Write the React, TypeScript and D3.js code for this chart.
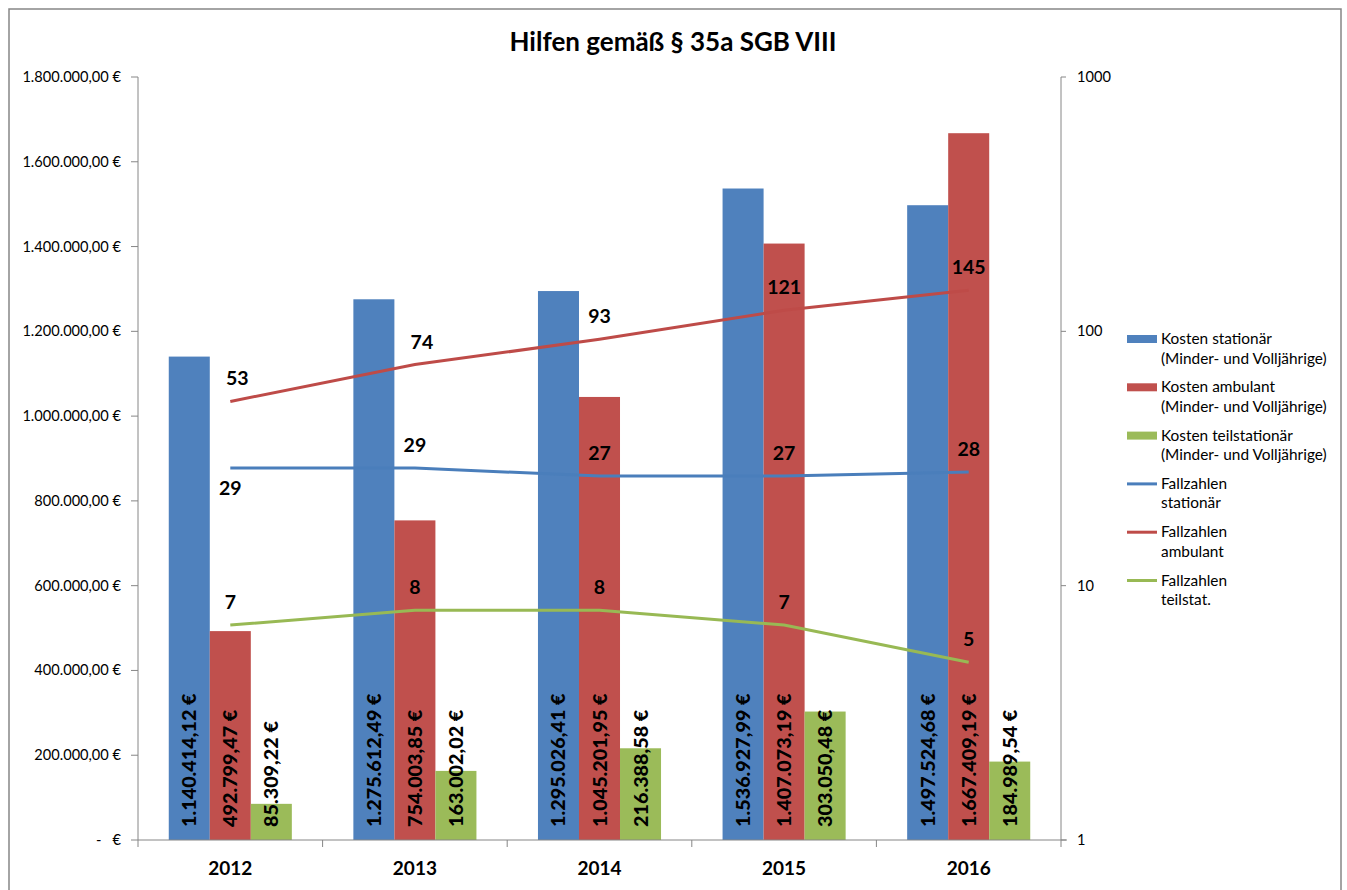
import React from "react";
import * as d3 from "d3";

const years = ["2012", "2013", "2014", "2015", "2016"];
const kostenStationaer = [1140414.12, 1275612.49, 1295026.41, 1536927.99, 1497524.68];
const kostenAmbulant = [492799.47, 754003.85, 1045201.95, 1407073.19, 1667409.19];
const kostenTeilstationaer = [85309.22, 163002.02, 216388.58, 303050.48, 184989.54];
const fallStationaer = [29, 29, 27, 27, 28];
const fallAmbulant = [53, 74, 93, 121, 145];
const fallTeilstat = [7, 8, 8, 7, 5];
const leftTicks = [0, 200000, 400000, 600000, 800000, 1000000, 1200000, 1400000, 1600000, 1800000];
const rightTicks = [1, 10, 100, 1000];
const title = "Hilfen gemäß § 35a SGB VIII";

const barSeries = [
  { name: ["Kosten stationär", "(Minder- und Volljährige)"], values: kostenStationaer, color: "#4F81BD" },
  { name: ["Kosten ambulant", "(Minder- und Volljährige)"], values: kostenAmbulant, color: "#C0504D" },
  { name: ["Kosten teilstationär", "(Minder- und Volljährige)"], values: kostenTeilstationaer, color: "#9BBB59" },
];
const lineSeries = [
  { name: ["Fallzahlen", "stationär"], values: fallStationaer, color: "#4A7EBB", below: [true, false, false, false, false] },
  { name: ["Fallzahlen", "ambulant"], values: fallAmbulant, color: "#BE4B48", below: [false, false, false, false, false] },
  { name: ["Fallzahlen", "teilstat."], values: fallTeilstat, color: "#98B954", below: [false, false, false, false, false] },
];

const de = d3.formatLocale({ decimal: ",", thousands: ".", grouping: [3], currency: ["", " €"] });
const fmtMoney = de.format(",.2f");
const FONT = "Lato, 'Open Sans', sans-serif";

export default function App() {
  const left = 138, right = 1061, top = 77, bottom = 840;
  const x0 = d3.scaleBand().domain(years).range([left, right]).paddingInner(0).paddingOuter(0);
  const bw = x0.bandwidth();
  const barW = bw / 4.5;
  const x1 = d3.scaleBand().domain(["0", "1", "2"]).range([0.75 * barW, 3.75 * barW]).padding(0);
  const yL = d3.scaleLinear().domain([0, 1800000]).range([bottom, top]);
  const yR = d3.scaleLog().domain([1, 1000]).range([bottom, top]);
  const xc = (i: number) => (x0(years[i]) as number) + bw / 2;
  const line = (vals: number[]) =>
    d3.line<number>().x((_, i) => xc(i)).y((v) => yR(v))(vals) as string;

  const legendX = 1127;
  const legendY0 = 344;
  const legendStep = 48.3;

  return (
    <svg width={1347} height={890} style={{ position: "absolute", left: 0, top: 0, fontFamily: FONT }}>
      <rect x={0} y={0} width={1347} height={890} fill="#fff" />
      <rect x={9} y={9} width={1332} height={900} fill="#fff" stroke="#868686" strokeWidth={1.5} />
      <text x={673} y={51} textAnchor="middle" fontSize={26} fontWeight="bold" fill="#000">{title}</text>

      {/* bars */}
      {barSeries.map((s, si) =>
        s.values.map((v, i) => {
          const bx = (x0(years[i]) as number) + (x1(String(si)) as number);
          return (
            <rect key={`b${si}-${i}`} x={bx} y={yL(v)} width={x1.bandwidth()} height={bottom - yL(v)} fill={s.color} />
          );
        })
      )}

      {/* axes */}
      <line x1={left} x2={left} y1={top} y2={bottom} stroke="#868686" strokeWidth={1} />
      <line x1={right} x2={right} y1={top} y2={bottom + 7} stroke="#868686" strokeWidth={1} />
      <line x1={left} x2={right + 6} y1={bottom} y2={bottom} stroke="#868686" strokeWidth={1} />
      {leftTicks.map((t) => (
        <g key={`lt${t}`}>
          <line x1={left - 7} x2={left} y1={yL(t)} y2={yL(t)} stroke="#868686" />
          <text x={121} y={yL(t) + 5} textAnchor="end" fontSize={14.6} fill="#000" style={{ whiteSpace: "pre" }}>
            {t === 0 ? "-   €" : fmtMoney(t) + " €"}
          </text>
        </g>
      ))}
      {rightTicks.map((t) => (
        <g key={`rt${t}`}>
          <line x1={right} x2={right + 5} y1={yR(t)} y2={yR(t)} stroke="#868686" />
          <text x={1077} y={yR(t) + 5} fontSize={14.6} fill="#000">{t}</text>
        </g>
      ))}
      {years.map((y, i) => (
        <g key={`c${y}`}>
          <line x1={x0(y) as number} x2={x0(y) as number} y1={bottom} y2={bottom + 7} stroke="#868686" />
          <text x={xc(i)} y={875} textAnchor="middle" fontSize={19} fontWeight="bold" fill="#000">{y}</text>
        </g>
      ))}

      {/* bar labels */}
      {barSeries.map((s, si) =>
        s.values.map((v, i) => {
          const cx = (x0(years[i]) as number) + (x1(String(si)) as number) + x1.bandwidth() / 2;
          return (
            <text key={`bl${si}-${i}`} transform={`translate(${cx + 7},${bottom - 13}) rotate(-90)`} fontSize={19.8} fontWeight={900} fill="#000">
              {fmtMoney(v) + " €"}
            </text>
          );
        })
      )}

      {/* lines */}
      {lineSeries.map((s, si) => (
        <path key={`l${si}`} d={line(s.values)} fill="none" stroke={s.color} strokeWidth={3} />
      ))}
      {lineSeries.map((s, si) =>
        s.values.map((v, i) => (
          <text key={`ll${si}-${i}`} x={xc(i) + (si === 1 && i < 2 ? 7 : 0)} y={yR(v) + (s.below[i] ? 27 : -16)} textAnchor="middle" fontSize={19.5} fontWeight="bold" fill="#000">
            {v}
          </text>
        ))
      )}

      {/* legend */}
      {[...barSeries, ...lineSeries].map((s, k) => {
        const ly = legendY0 + k * legendStep;
        return (
          <g key={`lg${k}`}>
            {k < 3 ? (
              <rect x={legendX} y={ly - 9} width={30} height={8} fill={s.color} />
            ) : (
              <line x1={legendX} x2={legendX + 30} y1={ly - 5} y2={ly - 5} stroke={s.color} strokeWidth={3} />
            )}
            <text x={1161} y={ly} fontSize={15.4} fill="#000">
              <tspan x={1161}>{s.name[0]}</tspan>
              <tspan x={1161} dy={19.5}>{s.name[1]}</tspan>
            </text>
          </g>
        );
      })}
    </svg>
  );
}
